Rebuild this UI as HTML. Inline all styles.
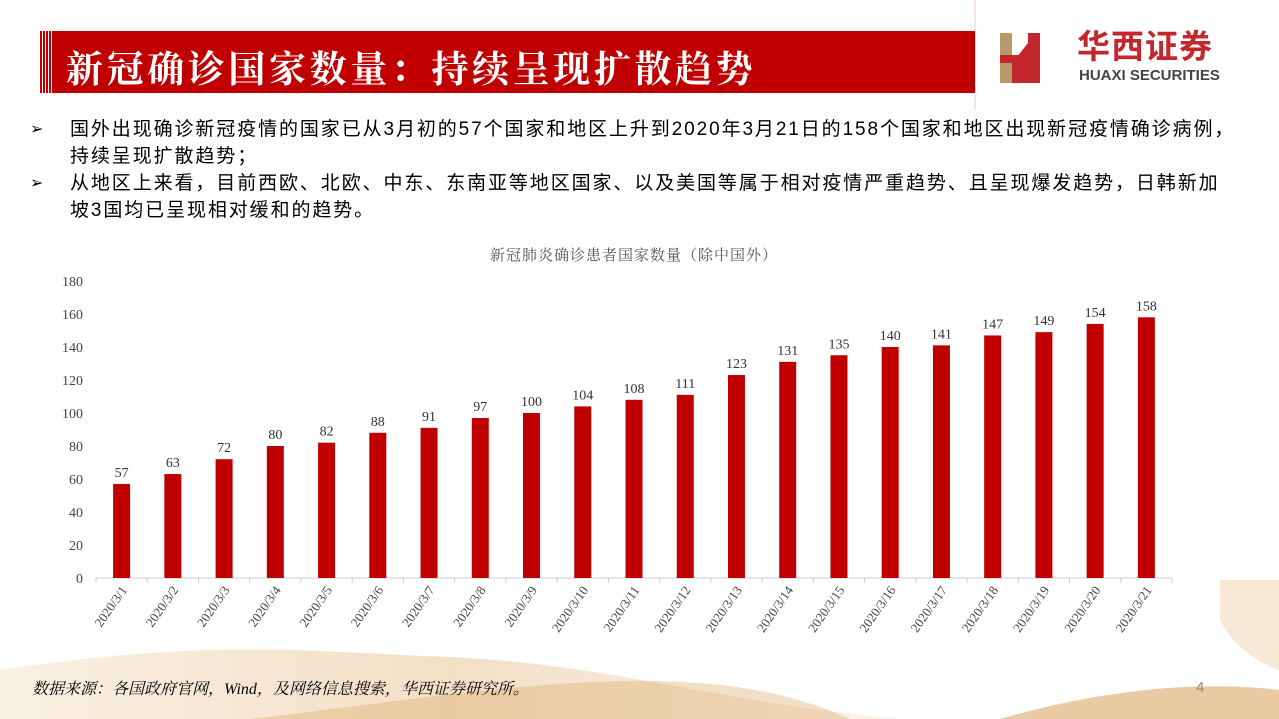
<!DOCTYPE html>
<html><head><meta charset="utf-8">
<style>
body{margin:0;width:1279px;height:719px;overflow:hidden;background:#fff;font-family:"Liberation Sans","Noto Sans CJK SC",sans-serif;position:relative}
.abs{position:absolute}
.b{position:absolute;left:0;font-size:16px}
</style></head><body>
<svg class="abs" style="left:0;top:0" width="1279" height="719">
<defs><linearGradient id="g" x1="0" y1="0" x2="1" y2="0"><stop offset="0" stop-color="#f6e6d2"/><stop offset="0.5" stop-color="#ebcaa0"/><stop offset="1" stop-color="#f7eadb"/></linearGradient></defs>
<path d="M0,719 L0,670 C200,640 300,650 420,656 C600,660 700,700 900,719 Z" fill="url(#g)" opacity="0.6"/>
<path d="M1000,719 C1100,690 1200,680 1279,690 L1279,719 Z" fill="#e0b47a" opacity="0.7"/>
<path d="M1220,580 L1279,580 L1279,670 C1250,660 1230,640 1220,620 Z" fill="#f3dfc4" opacity="0.7"/>
<path d="M250,719 C500,690 700,650 850,719 Z" fill="#d9a35e" opacity="0.35"/>
<line x1="975" y1="0" x2="975" y2="110" stroke="#f0c8c8" stroke-width="1"/>
</svg>
<div class="abs" style="left:40px;top:31px;width:935px;height:62px;background:#c00000"></div>
<div class="abs" style="left:40px;top:31px;width:14px;height:62px;background:repeating-linear-gradient(90deg,#c00000 0 2px,#fff 2px 3px)"></div>
<div class="abs" style="left:66px;top:39px;color:#fff;font-size:37px;font-weight:bold;font-family:'Noto Serif CJK SC','Noto Sans CJK SC',serif;letter-spacing:3.6px">新冠确诊国家数量：持续呈现扩散趋势</div>
<svg class="abs" style="left:1000px;top:33px" width="56" height="50">
<rect x="0" y="0" width="12" height="50" fill="#b8996a"/><rect x="0" y="22" width="40" height="8" fill="#c4262e"/><rect x="28" y="0" width="12" height="50" fill="#c4262e"/><polygon points="12,30 28,10 28,30" fill="#c4262e"/><rect x="12" y="30" width="16" height="20" fill="#c4262e"/>
</svg>
<div class="abs" style="left:1077px;top:27px;color:#c4262e;font-size:33px;line-height:40px;font-weight:bold;letter-spacing:1px">华西证券</div>
<div class="abs" style="left:1079px;top:67px;color:#444;font-size:15px;font-weight:bold">HUAXI SECURITIES</div>
<div class="abs" style="left:30px;top:116px;width:1240px;font-size:19px;line-height:27px;color:#000;letter-spacing:1.9px">
<div style="position:relative;padding-left:40px"><span class="b">➢</span>国外出现确诊新冠疫情的国家已从3月初的57个国家和地区上升到2020年3月21日的158个国家和地区出现新冠疫情确诊病例，<br>持续呈现扩散趋势；</div>
<div style="position:relative;padding-left:40px"><span class="b">➢</span>从地区上来看，目前西欧、北欧、中东、东南亚等地区国家、以及美国等属于相对疫情严重趋势、且呈现爆发趋势，日韩新加<br>坡3国均已呈现相对缓和的趋势。</div>
</div>
<svg class="abs" id="chart" style="left:0;top:0" width="1279" height="719"></svg>
<div class="abs" style="left:32px;top:676px;font-size:16px;font-style:italic;font-family:'Liberation Serif','Noto Serif CJK SC',serif">数据来源：各国政府官网，Wind，及网络信息搜索，华西证券研究所。</div>
<div class="abs" style="left:1196px;top:679px;font-size:15px;color:#888">4</div>
<script>
const categories=["2020/3/1","2020/3/2","2020/3/3","2020/3/4","2020/3/5","2020/3/6","2020/3/7","2020/3/8","2020/3/9","2020/3/10","2020/3/11","2020/3/12","2020/3/13","2020/3/14","2020/3/15","2020/3/16","2020/3/17","2020/3/18","2020/3/19","2020/3/20","2020/3/21"];
const values=[57,63,72,80,82,88,91,97,100,104,108,111,123,131,135,140,141,147,149,154,158];
const yTicks=[0,20,40,60,80,100,120,140,160,180];
const NS="http://www.w3.org/2000/svg";
const svg=document.getElementById('chart');
const x0=96,x1=1172,y0=578,y1=281,yMax=180;
const bw=(x1-x0)/categories.length;
const yS=v=>y0-(v/yMax)*(y0-y1);
const xC=i=>x0+bw*(i+0.5);
function mk(t,a,txt){const e=document.createElementNS(NS,t);for(const k in a)e.setAttribute(k,a[k]);if(txt!==undefined)e.textContent=txt;svg.appendChild(e);return e;}
const tt=mk('text',{x:(x0+x1)/2,y:260,'text-anchor':'middle','font-size':15,fill:'#555','font-family':"'Noto Serif CJK SC',serif",'letter-spacing':1},'新冠肺炎确诊患者国家数量（除中国外）');


yTicks.forEach(v=>{const t=mk('text',{x:83,y:yS(v)+5,'text-anchor':'end','font-size':14,fill:'#444','font-family':"'Liberation Serif',serif"},v);

});
const ax=mk('line',{x1:x0,y1:y0,x2:x1,y2:y0,stroke:'#ccc'});


for(let i=0;i<=categories.length;i++){const tk=mk('line',{x1:x0+bw*i,y1:y0,x2:x0+bw*i,y2:y0+5,stroke:'#ccc'});

}
values.forEach((v,i)=>{const r=mk('rect',{x:xC(i)-8.5,y:yS(v),width:17,height:y0-yS(v),fill:'#c00000'});


const l=mk('text',{x:xC(i),y:yS(v)-7,'text-anchor':'middle','font-size':14,fill:'#333','font-family':"'Liberation Serif',serif"},v);


const c=mk('text',{x:xC(i)+6,y:y0+12,'text-anchor':'end','font-size':13,fill:'#444','font-family':"'Liberation Serif',serif",transform:`rotate(-55 ${xC(i)+6} ${y0+12})`},categories[i]);

});
</script>
</body></html>
